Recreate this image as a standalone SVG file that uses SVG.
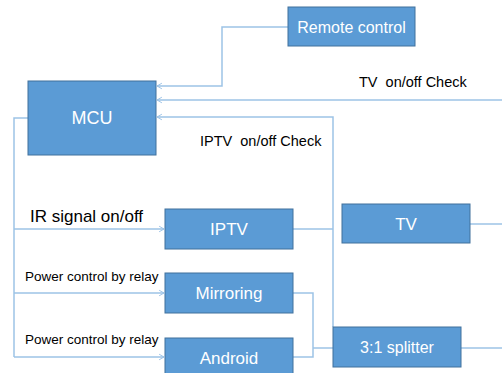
<svg xmlns="http://www.w3.org/2000/svg" width="502" height="373" viewBox="0 0 502 373">
  <style>
    .box { fill: #5B9BD5; stroke: #41719C; stroke-width: 1; }
    .lbl { font-family: "Liberation Sans", Arial, sans-serif; fill: #FFFFFF; text-anchor: middle; }
    .txt { font-family: "Liberation Sans", Arial, sans-serif; fill: #000000; }
    .wire { fill: none; stroke: #9DC3E6; stroke-width: 1.5; }
  </style>
  <defs>
    <marker id="arrow" viewBox="0 0 10 10" refX="9" refY="5" markerWidth="7" markerHeight="8" markerUnits="userSpaceOnUse" orient="auto">
      <path d="M2,1 L9,5 L2,9" fill="none" stroke="#9DC3E6" stroke-width="1.4"/>
    </marker>
  </defs>
  <rect width="502" height="373" fill="#FFFFFF"/>

  <!-- connectors -->
  <g id="connectors">
    <!-- remote control to MCU -->
    <polyline class="wire" points="288,27 222,27 222,86 157,86" marker-end="url(#arrow)"/>
    <!-- TV state feedback -->
    <polyline class="wire" points="502,100 157,100" marker-end="url(#arrow)"/>
    <!-- IPTV state feedback via splitter -->
    <polyline class="wire" points="333,327 333,117 157,117" marker-end="url(#arrow)"/>
    <!-- MCU outputs -->
    <polyline class="wire" points="28,118 14,118 14,357"/>
    <polyline class="wire" points="14,229 164,229" marker-end="url(#arrow)"/>
    <polyline class="wire" points="14,293 164,293" marker-end="url(#arrow)"/>
    <polyline class="wire" points="14,357 164,357" marker-end="url(#arrow)"/>
    <!-- IPTV to splitter line -->
    <polyline class="wire" points="293,229 333,229"/>
    <!-- Mirroring / Android to splitter -->
    <polyline class="wire" points="293,293 313,293 313,357 293,357"/>
    <polyline class="wire" points="313,348 333,348"/>
    <!-- outputs to the right -->
    <polyline class="wire" points="470,224 502,224"/>
    <polyline class="wire" points="461,348 502,348"/>
  </g>

  <g id="remote">
    <rect class="box" x="288" y="7" width="127" height="39"/>
    <text class="lbl" x="351.5" y="32.5" font-size="16">Remote control</text>
  </g>
  <g id="mcu">
    <rect class="box" x="28" y="81" width="128" height="74"/>
    <text class="lbl" x="92" y="124" font-size="18">MCU</text>
  </g>
  <g id="iptv">
    <rect class="box" x="165" y="209" width="128" height="40"/>
    <text class="lbl" x="229" y="235" font-size="17">IPTV</text>
  </g>
  <g id="tv">
    <rect class="box" x="342" y="204" width="128" height="39"/>
    <text class="lbl" x="406" y="230" font-size="17">TV</text>
  </g>
  <g id="mirroring">
    <rect class="box" x="165" y="273" width="128" height="40"/>
    <text class="lbl" x="229" y="299" font-size="17">Mirroring</text>
  </g>
  <g id="android">
    <rect class="box" x="165" y="338" width="128" height="42"/>
    <text class="lbl" x="229" y="364" font-size="17">Android</text>
  </g>
  <g id="splitter">
    <rect class="box" x="333" y="327" width="128" height="40"/>
    <text class="lbl" x="397" y="353" font-size="16">3:1 splitter</text>
  </g>

  <!-- connector labels -->
  <text class="txt" x="359" y="87" font-size="14.5" xml:space="preserve">TV  on/off Check</text>
  <text class="txt" x="200" y="146" font-size="14.5" xml:space="preserve">IPTV  on/off Check</text>
  <text class="txt" x="30" y="222" font-size="17">IR signal on/off</text>
  <text class="txt" x="25" y="281" font-size="13.5">Power control by relay</text>
  <text class="txt" x="25" y="344" font-size="13.5">Power control by relay</text>
</svg>
